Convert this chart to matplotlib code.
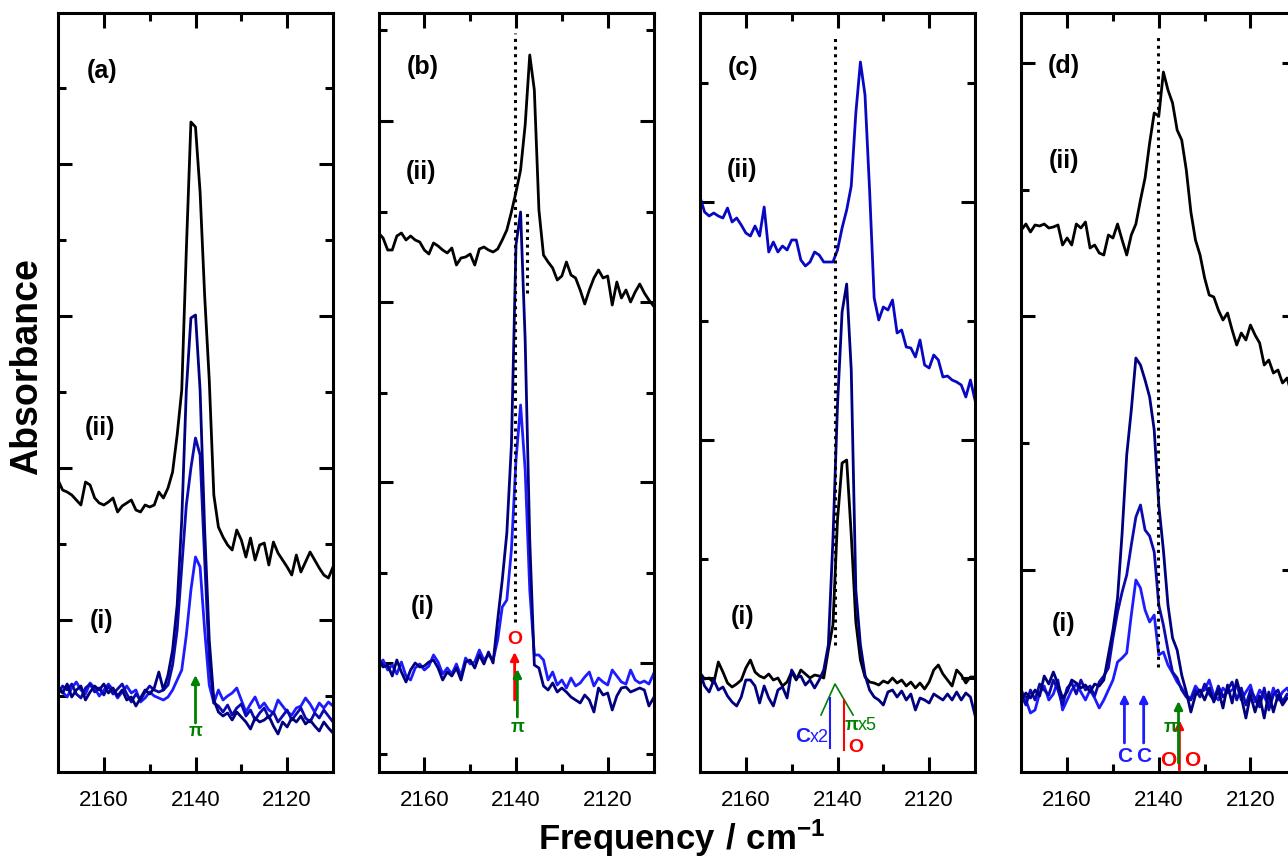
import matplotlib.pyplot as plt
import numpy as np
from matplotlib.ticker import FixedLocator

plt.rcParams['font.family'] = ['Liberation Sans', 'DejaVu Sans']
plt.rcParams['mathtext.fontset'] = 'custom'
plt.rcParams['mathtext.bf'] = 'Liberation Sans:bold'
plt.rcParams['mathtext.rm'] = 'Liberation Sans'

# wavenumber grid of the spectra (1 cm-1 steps, 2170 -> 2110)
freq = np.arange(2170, 2109, -1)

# absorbance, arbitrary units (traces offset as in the figure)
# panel (a)
a_black = [292, 282, 280, 277, 272, 267, 290, 287, 274, 269, 267, 270, 274, 260, 266, 269, 272, 262, 260, 267,
           265, 267, 280, 274, 284, 300, 337, 382, 522, 650, 645, 580, 476, 392, 277, 245, 235, 227, 222, 242,
           232, 215, 234, 212, 227, 229, 207, 230, 219, 212, 205, 197, 217, 200, 210, 220, 212, 204, 197, 194, 205]
a_navy = [84, 79, 88, 75, 82, 86, 72, 80, 86, 82, 88, 79, 84, 76, 82, 72, 75, 66, 74, 82,
          78, 84, 100, 82, 97, 122, 167, 252, 382, 454, 457, 382, 242, 132, 72, 60, 56, 59, 52, 60,
          55, 50, 43, 54, 50, 52, 56, 46, 38, 50, 45, 54, 50, 56, 48, 52, 46, 41, 50, 44, 39]
a_mid = [78, 86, 82, 88, 78, 74, 84, 88, 80, 84, 77, 86, 78, 83, 88, 78, 70, 78, 72, 80,
         86, 82, 80, 82, 87, 107, 142, 205, 267, 304, 334, 317, 212, 112, 69, 66, 60, 67, 57, 64,
         68, 56, 62, 52, 59, 64, 54, 60, 50, 56, 62, 52, 58, 64, 54, 50, 59, 54, 62, 56, 50]
a_bright = [86, 80, 75, 84, 90, 82, 78, 89, 84, 76, 82, 88, 82, 74, 80, 86, 79, 82, 70, 74,
            80, 76, 74, 72, 75, 82, 92, 102, 137, 182, 215, 205, 142, 87, 69, 82, 72, 76, 79, 84,
            72, 60, 68, 75, 64, 69, 62, 59, 72, 66, 60, 57, 64, 66, 74, 68, 60, 69, 64, 70, 66]

# panel (b)
b_black = [539, 534, 522, 522, 536, 539, 532, 536, 532, 530, 522, 518, 529, 526, 522, 519, 524, 507, 514, 515,
           518, 507, 523, 525, 522, 520, 523, 532, 542, 560, 580, 602, 647, 717, 682, 562, 517, 510, 504, 492,
           496, 510, 497, 494, 482, 468, 482, 494, 502, 494, 496, 467, 490, 474, 482, 470, 480, 488, 479, 472, 466]
b_navy = [112, 105, 107, 96, 112, 100, 90, 102, 109, 105, 106, 110, 112, 104, 92, 100, 96, 104, 92, 110,
          112, 104, 117, 108, 120, 109, 152, 192, 239, 327, 527, 560, 432, 232, 107, 104, 86, 82, 89, 80,
          84, 80, 75, 72, 69, 77, 72, 60, 84, 77, 79, 62, 76, 84, 85, 80, 82, 84, 82, 66, 74]
b_bright = [107, 112, 102, 107, 98, 110, 96, 92, 104, 108, 102, 106, 117, 110, 98, 104, 98, 108, 96, 114,
            108, 110, 122, 112, 117, 112, 132, 165, 172, 222, 312, 367, 302, 182, 117, 117, 112, 92, 100, 87,
            92, 84, 94, 86, 89, 95, 100, 86, 94, 90, 87, 102, 96, 90, 88, 102, 92, 89, 91, 88, 98]

# panel (c)
c_blue = [575, 560, 556, 559, 556, 554, 564, 550, 554, 547, 539, 536, 546, 536, 565, 520, 530, 520, 526, 522,
          532, 532, 512, 506, 510, 520, 517, 510, 510, 510, 522, 544, 562, 586, 659, 710, 677, 582, 474, 452,
          465, 462, 472, 439, 442, 425, 424, 415, 432, 407, 404, 417, 412, 395, 396, 392, 390, 387, 375, 392, 372]
c_navy = [99, 86, 80, 92, 82, 85, 76, 70, 66, 75, 92, 92, 86, 69, 86, 74, 66, 82, 85, 74,
          102, 94, 96, 87, 92, 84, 92, 102, 127, 232, 367, 460, 488, 402, 182, 127, 97, 82, 75, 72,
          67, 80, 82, 75, 81, 72, 78, 62, 74, 72, 69, 78, 75, 72, 78, 72, 80, 72, 79, 75, 57]
c_black = [99, 93, 94, 89, 110, 100, 89, 85, 88, 92, 104, 112, 100, 96, 94, 98, 92, 94, 86, 90,
           100, 92, 102, 98, 94, 97, 96, 94, 122, 147, 252, 309, 312, 237, 150, 112, 95, 90, 89, 87,
           91, 89, 94, 89, 92, 86, 90, 84, 89, 83, 90, 102, 107, 98, 92, 86, 102, 97, 89, 95, 95]

# panel (d)
d_black = [542, 548, 540, 547, 546, 548, 544, 545, 547, 527, 534, 527, 548, 544, 550, 524, 527, 519, 517, 537,
           534, 548, 532, 517, 537, 548, 572, 594, 629, 659, 656, 700, 682, 669, 642, 632, 602, 560, 532, 517,
           494, 477, 475, 462, 452, 459, 442, 427, 439, 432, 447, 437, 429, 407, 412, 399, 402, 389, 394, 377, 372]
d_navy = [72, 79, 74, 82, 76, 96, 88, 100, 88, 74, 80, 92, 89, 84, 87, 80, 88, 86, 92, 117,
          142, 174, 239, 317, 362, 414, 407, 392, 375, 342, 267, 222, 167, 134, 122, 97, 80, 60, 77, 82,
          72, 84, 70, 82, 64, 87, 69, 92, 75, 54, 77, 60, 76, 54, 80, 60, 77, 67, 74, 72, 72]
d_mid = [77, 67, 82, 72, 88, 82, 77, 92, 82, 67, 84, 89, 78, 92, 82, 86, 76, 90, 96, 104,
         134, 160, 180, 197, 227, 255, 267, 242, 236, 220, 167, 147, 122, 100, 94, 82, 75, 72, 82, 75,
         88, 78, 72, 86, 75, 82, 90, 72, 84, 67, 82, 74, 65, 84, 62, 77, 82, 70, 78, 74, 77]
d_bright = [82, 72, 59, 62, 79, 86, 72, 78, 92, 62, 72, 82, 88, 80, 72, 82, 74, 64, 72, 82,
            92, 110, 114, 119, 157, 192, 184, 162, 150, 157, 117, 120, 107, 99, 90, 84, 76, 74, 86, 80,
            82, 92, 77, 72, 84, 79, 82, 87, 72, 80, 87, 70, 82, 75, 67, 84, 72, 80, 84, 75, 80]

NAVY = '#00007f'
MID = '#0a0ab0'
BRIGHT = '#1c1cff'
CBLUE = '#0808c4'
GREEN = '#008000'
RED = '#ff0000'

W, H = 1288, 857
fig = plt.figure(figsize=(W / 100, H / 100), dpi=100)

lefts = [58, 378.5, 700, 1021.3]
yticks = [
    ([152, 304, 456, 608], [76, 228, 380, 532, 684]),
    ([109, 290, 470, 651], [18, 199, 379, 560, 742]),
    ([94, 332, 570], [213, 451, 689]),
    ([202, 456, 709], [75, 329, 582]),
]
labels = ['(a)', '(b)', '(c)', '(d)']
lab_pos = [(0.16, 0.924), (0.162, 0.929), (0.157, 0.927), (0.156, 0.930)]
ii_pos = [(0.153, 0.453), (0.154, 0.79), (0.153, 0.793), (0.156, 0.805)]
i_pos = [(0.16, 0.199), (0.162, 0.217), (0.153, 0.204), (0.153, 0.195)]

axes = []
for k in range(4):
    ax = fig.add_axes([lefts[k] / W, 85 / H, 275 / W, 759 / H])
    ax.set_xlim(2170, 2110)
    ax.set_ylim(0, 759)
    ax.set_xticks([2160, 2140, 2120])
    ax.set_xticks([2150, 2130], minor=True)
    ax.yaxis.set_major_locator(FixedLocator(yticks[k][0]))
    ax.yaxis.set_minor_locator(FixedLocator(yticks[k][1]))
    ax.tick_params(which='both', direction='in', top=True, right=True, width=2.2,
                   labelleft=False, labelsize=16)
    ax.tick_params(axis='x', which='major', length=11, pad=13)
    ax.tick_params(axis='x', which='minor', length=6)
    ax.tick_params(axis='y', which='major', length=10)
    ax.tick_params(axis='y', which='minor', length=6)
    for s in ax.spines.values():
        s.set_linewidth(2.2)
    ax.text(*lab_pos[k], labels[k], transform=ax.transAxes, fontsize=18,
            fontweight='bold', ha='center', va='center')
    ax.text(*ii_pos[k], '(ii)', transform=ax.transAxes, fontsize=18,
            fontweight='bold', ha='center', va='center')
    ax.text(*i_pos[k], '(i)', transform=ax.transAxes, fontsize=18,
            fontweight='bold', ha='center', va='center')
    axes.append(ax)

lw = 2.0
dots = (0, (1, 1.5))


def arrow(ax, x, y0, y1, color, ms=12):
    ax.annotate('', xy=(x, y1), xytext=(x, y0),
                arrowprops=dict(arrowstyle='-|>', color=color, lw=2,
                                mutation_scale=ms, shrinkA=0, shrinkB=0))


# (a)
ax = axes[0]
ax.plot(freq, a_black, color='black', lw=lw)
ax.plot(freq, a_bright, color=BRIGHT, lw=lw)
ax.plot(freq, a_mid, color=MID, lw=lw)
ax.plot(freq, a_navy, color=NAVY, lw=lw)
arrow(ax, 2140, 49, 97, GREEN)
ax.text(2140, 40, 'π', color=GREEN, fontsize=13, fontweight='bold', ha='center', va='center')

# (b)
ax = axes[1]
ax.plot(freq, b_black, color='black', lw=lw)
ax.plot(freq, b_bright, color=BRIGHT, lw=lw)
ax.plot(freq, b_navy, color=NAVY, lw=lw)
ax.plot([2140.3, 2140.3], [150, 739], color='black', lw=2.2, ls=dots)
ax.plot([2137.6, 2137.6], [479, 559], color='black', lw=2.2, ls=dots)
arrow(ax, 2140.3, 72, 120, RED)
arrow(ax, 2139.7, 55, 103, GREEN)
ax.text(2140.3, 132, 'O', color=RED, fontsize=14, fontweight='bold', ha='center', va='center')
ax.text(2139.7, 44, 'π', color=GREEN, fontsize=13, fontweight='bold', ha='center', va='center')

# (c)
ax = axes[2]
ax.plot(freq, c_blue, color=CBLUE, lw=lw)
ax.plot(freq, c_black, color='black', lw=lw)
ax.plot(freq, c_navy, color=NAVY, lw=lw)
ax.plot([2140.6, 2140.6], [127, 734], color='black', lw=2.2, ls=dots)
ax.plot([2143.6, 2140.55, 2136.6], [57, 88, 57], color=GREEN, lw=1.2)
ax.plot([2141.65, 2141.65], [24, 74], color=BRIGHT, lw=1.5)
ax.plot([2138.6, 2138.6], [22, 72], color=RED, lw=1.5)
ax.text(2147.6, 35, 'C', color=BRIGHT, fontsize=15, fontweight='bold', ha='center', va='center')
ax.text(2146.1, 35, 'x2', color=BRIGHT, fontsize=13, ha='left', va='center')
ax.text(2136.9, 47, 'π', color=GREEN, fontsize=13, fontweight='bold', ha='center', va='center')
ax.text(2135.5, 47, 'x5', color=GREEN, fontsize=13, ha='left', va='center')
ax.text(2135.9, 24, 'O', color=RED, fontsize=14, fontweight='bold', ha='center', va='center')

# (d)
ax = axes[3]
ax.plot(freq, d_black, color='black', lw=lw)
ax.plot(freq, d_bright, color=BRIGHT, lw=lw)
ax.plot(freq, d_mid, color=MID, lw=lw)
ax.plot(freq, d_navy, color=NAVY, lw=lw)
ax.plot([2140.2, 2140.2], [105, 739], color='black', lw=2.2, ls=dots)
for xc in [2147.5, 2143.3]:
    arrow(ax, xc, 29, 78, BRIGHT)
    ax.text(xc, 15, 'C', color=BRIGHT, fontsize=15, fontweight='bold', ha='center', va='center')
arrow(ax, 2135.5, 2, 52, RED)
arrow(ax, 2135.7, 9, 71, GREEN)
ax.text(2137.4, 45, 'π', color=GREEN, fontsize=13, fontweight='bold', ha='center', va='center')
for xo in [2137.9, 2132.6]:
    ax.text(xo, 12, 'O', color=RED, fontsize=15, fontweight='bold', ha='center', va='center')

fig.text(0.021, 0.572, 'Absorbance', rotation=90, ha='center', va='center',
         fontsize=27, fontweight='bold')
fig.text(0.529, 0.008, r'$\mathbf{Frequency\ /\ cm^{-1}}$', ha='center', va='baseline',
         fontsize=25)

fig.savefig('out.png', dpi=100)
